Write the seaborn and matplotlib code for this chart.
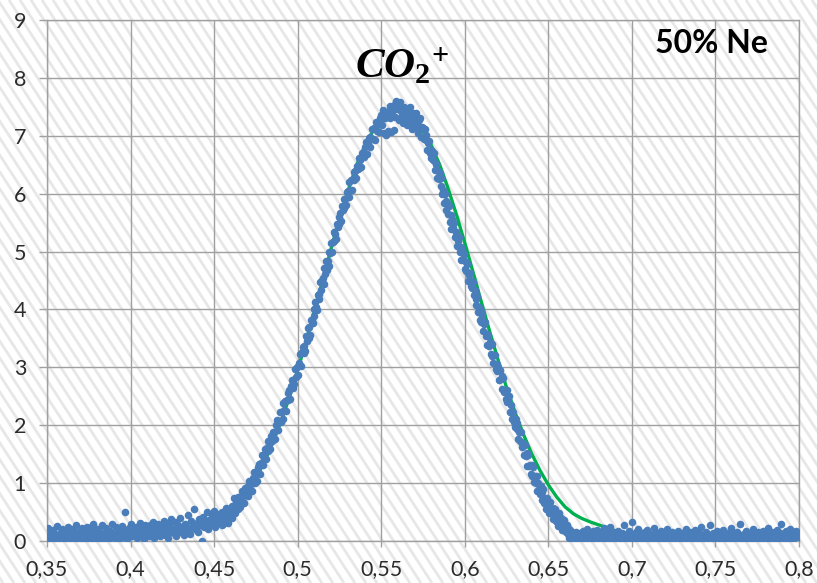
import numpy as np
import pandas as pd
import matplotlib
matplotlib.use("Agg")
import matplotlib.pyplot as plt
from matplotlib.ticker import FuncFormatter
import seaborn as sns

# ── data ──────────────────────────────────────────────────
# left baseline, 0.350 .. 0.4545
base_left = [
    0.08, 0.22, 0.03, 0.15, 0.01, 0.19, 0.11, 0.05, 0.26, 0.09,
    0.14, 0.02, 0.21, 0.07, 0.17, 0.00, 0.12, 0.24, 0.06, 0.16,
    0.04, 0.20, 0.10, 0.28, 0.03, 0.13, 0.18, 0.01, 0.23, 0.08,
    0.15, 0.05, 0.25, 0.11, 0.02, 0.19, 0.07, 0.29, 0.12, 0.04,
    0.21, 0.09, 0.16, 0.01, 0.27, 0.10, 0.06, 0.22, 0.14, 0.03,
    0.18, 0.08, 0.30, 0.12, 0.05, 0.24, 0.15, 0.02, 0.20, 0.10,
    0.26, 0.07, 0.50, 0.17, 0.04, 0.22, 0.13, 0.29, 0.09, 0.19,
    0.11, 0.25, 0.06, 0.18, 0.31, 0.10, 0.21, 0.03, 0.27, 0.14,
    0.20, 0.08, 0.28, 0.15, 0.33, 0.06, 0.22, 0.12, 0.30, 0.17,
    0.09, 0.26, 0.18, 0.35, 0.11, 0.23, 0.05, 0.29, 0.16, 0.38,
    0.21, 0.13, 0.32, 0.08, 0.27, 0.19, 0.40, 0.15, 0.25, 0.10,
    0.30, 0.18, 0.45, 0.22, 0.12, 0.35, 0.26, 0.55, 0.20, 0.31,
    0.16, 0.38, 0.27, 0.00, 0.42, 0.24, 0.33, 0.50, 0.21, 0.36,
    0.29, 0.44, 0.35, 0.52, 0.25, 0.40, 0.31, 0.47, 0.38, 0.28,
]
# rising edge, 0.455 .. 0.5595
rise = [
    0.50, 0.29, 0.47, 0.39, 0.57, 0.36, 0.47, 0.31, 0.55, 0.43,
    0.42, 0.61, 0.39, 0.58, 0.74, 0.49, 0.67, 0.60, 0.76, 0.56,
    0.76, 0.59, 0.75, 0.86, 0.68, 0.82, 0.65, 0.91, 0.80, 0.90,
    0.77, 0.95, 1.03, 0.88, 0.99, 0.86, 1.09, 1.00, 1.19, 1.01,
    1.16, 1.04, 1.28, 1.17, 1.33, 1.16, 1.34, 1.48, 1.32, 1.48,
    1.42, 1.59, 1.41, 1.61, 1.73, 1.56, 1.67, 1.59, 1.81, 1.73,
    1.89, 1.77, 1.89, 1.77, 2.00, 2.09, 1.91, 2.08, 2.05, 2.22,
    2.06, 2.23, 2.11, 2.39, 2.27, 2.42, 2.24, 2.44, 2.56, 2.44,
    2.61, 2.46, 2.67, 2.78, 2.65, 2.78, 2.71, 2.97, 2.84, 3.01,
    2.87, 3.08, 3.04, 3.23, 3.03, 3.26, 3.35, 3.24, 3.37, 3.29,
    3.54, 3.45, 3.68, 3.50, 3.69, 3.56, 3.82, 3.81, 3.77, 4.01,
    3.88, 4.13, 4.04, 3.99, 4.25, 4.26, 4.18, 4.48, 4.34, 4.51,
    4.55, 4.44, 4.71, 4.62, 4.84, 4.69, 4.84, 4.75, 4.99, 4.97,
    5.14, 4.99, 5.17, 5.33, 5.18, 5.30, 5.21, 5.47, 5.42, 5.60,
    5.47, 5.66, 5.52, 5.78, 5.71, 5.91, 5.76, 5.90, 5.81, 6.03,
    6.04, 5.94, 6.20, 6.06, 6.23, 6.06, 6.25, 6.37, 6.23, 6.39,
    6.27, 6.48, 6.42, 6.61, 6.44, 6.59, 6.46, 6.71, 6.66, 6.63,
    6.80, 6.69, 6.89, 6.69, 6.87, 6.96, 6.81, 6.98, 6.94, 7.11,
    6.95, 7.14, 6.93, 7.13, 7.24, 7.08, 7.22, 7.06, 7.21, 7.31,
    7.36, 7.18, 7.44, 7.05, 7.30, 7.40, 7.02, 7.35, 7.08, 7.42,
    7.30, 7.52, 7.06, 7.38, 7.45, 7.10, 7.55, 7.33, 7.60, 7.47,
]
# falling edge, 0.560 .. 0.6695
fall = [
    7.52, 7.28, 7.45, 7.58, 7.33, 7.40, 7.22, 7.49, 7.36, 7.30,
    7.44, 7.18, 7.38, 7.27, 7.50, 7.21, 7.35, 7.12, 7.40, 7.28,
    7.32, 7.15, 7.39, 7.20, 7.05, 7.28, 7.13, 7.30, 6.98, 7.16,
    7.13, 6.94, 7.12, 6.93, 7.01, 6.76, 6.88, 6.91, 6.71, 6.76,
    6.61, 6.73, 6.59, 6.70, 6.41, 6.52, 6.52, 6.27, 6.40, 6.25,
    6.35, 6.14, 6.27, 6.00, 6.06, 5.84, 5.99, 5.88, 5.71, 5.84,
    5.65, 5.78, 5.51, 5.63, 5.39, 5.57, 5.40, 5.50, 5.26, 5.34,
    5.33, 5.10, 5.19, 5.26, 5.00, 5.08, 4.86, 5.03, 4.87, 4.95,
    4.70, 4.82, 4.67, 4.79, 4.49, 4.60, 4.63, 4.41, 4.49, 4.37,
    4.47, 4.25, 4.33, 4.08, 4.18, 4.23, 3.96, 4.05, 3.81, 3.97,
    3.78, 3.90, 3.63, 3.74, 3.79, 3.54, 3.57, 3.39, 3.54, 3.37,
    3.44, 3.23, 3.40, 3.19, 3.07, 3.21, 3.22, 2.97, 3.06, 2.93,
    3.00, 2.78, 2.96, 2.80, 2.85, 2.62, 2.82, 2.57, 2.60, 2.46,
    2.61, 2.40, 2.45, 2.50, 2.22, 2.35, 2.10, 2.21, 2.23, 2.06,
    1.97, 2.11, 1.93, 2.04, 1.77, 1.89, 1.73, 1.88, 1.62, 1.69,
    1.69, 1.49, 1.66, 1.46, 1.52, 1.30, 1.48, 1.29, 1.32, 1.16,
    1.31, 1.12, 1.28, 1.02, 1.12, 1.00, 1.13, 0.86, 1.01, 0.89,
    0.82, 0.95, 0.71, 0.85, 0.89, 0.66, 0.74, 0.55, 0.74, 0.59,
    0.68, 0.48, 0.68, 0.49, 0.54, 0.38, 0.57, 0.43, 0.55, 0.34,
    0.33, 0.48, 0.26, 0.49, 0.31, 0.39, 0.19, 0.34, 0.19, 0.37,
    0.30, 0.16, 0.27, 0.12, 0.22, 0.05, 0.19, 0.10, 0.15, 0.03,
    0.12, 0.02, 0.09, 0.16, 0.04, 0.11, 0.00, 0.08, 0.14, 0.05,
]
# right baseline, 0.670 .. 0.800
base_right = [
    0.06, 0.18, 0.02, 0.11, 0.21, 0.04, 0.14, 0.00, 0.09, 0.17,
    0.03, 0.12, 0.19, 0.07, 0.01, 0.15, 0.05, 0.22, 0.10, 0.02,
    0.13, 0.06, 0.24, 0.08, 0.16, 0.01, 0.11, 0.04, 0.18, 0.07,
    0.00, 0.14, 0.09, 0.28, 0.05, 0.12, 0.03, 0.17, 0.08, 0.32,
    0.11, 0.02, 0.15, 0.06, 0.20, 0.01, 0.10, 0.13, 0.04, 0.16,
    0.07, 0.19, 0.03, 0.12, 0.00, 0.09, 0.22, 0.05, 0.14, 0.02,
    0.10, 0.04, 0.17, 0.08, 0.13, 0.01, 0.20, 0.06, 0.11, 0.03,
    0.15, 0.07, 0.00, 0.12, 0.05, 0.18, 0.09, 0.02, 0.14, 0.06,
    0.11, 0.21, 0.03, 0.08, 0.16, 0.01, 0.12, 0.05, 0.19, 0.07,
    0.02, 0.13, 0.09, 0.24, 0.04, 0.10, 0.00, 0.15, 0.06, 0.11,
    0.28, 0.05, 0.14, 0.08, 0.01, 0.17, 0.10, 0.03, 0.12, 0.06,
    0.19, 0.04, 0.09, 0.14, 0.00, 0.11, 0.23, 0.07, 0.02, 0.13,
    0.08, 0.16, 0.05, 0.30, 0.10, 0.03, 0.12, 0.06, 0.18, 0.01,
    0.09, 0.14, 0.04, 0.20, 0.07, 0.11, 0.02, 0.15, 0.08, 0.12,
    0.05, 0.17, 0.10, 0.01, 0.13, 0.22, 0.06, 0.09, 0.16, 0.03,
    0.11, 0.07, 0.19, 0.04, 0.14, 0.29, 0.08, 0.12, 0.02, 0.17,
    0.10, 0.06, 0.21, 0.13, 0.04, 0.16, 0.09, 0.18, 0.11, 0.07,
]

# fitted curve (green)
fit_x = [0.35, 0.36, 0.37, 0.38, 0.39, 0.40, 0.41, 0.42, 0.43,
         0.435, 0.44, 0.445, 0.45, 0.455, 0.46, 0.465, 0.47, 0.475, 0.48,
         0.485, 0.49, 0.495, 0.50, 0.505, 0.51, 0.515, 0.52, 0.525, 0.53,
         0.535, 0.54, 0.545, 0.55, 0.555, 0.56, 0.565, 0.57, 0.575, 0.58,
         0.585, 0.59, 0.595, 0.60, 0.605, 0.61, 0.615, 0.62, 0.625, 0.63,
         0.635, 0.64, 0.645, 0.65, 0.655, 0.66, 0.665, 0.67, 0.675, 0.68,
         0.685, 0.69, 0.70, 0.71, 0.72, 0.74, 0.76, 0.78, 0.80]
fit_y = [0.03, 0.04, 0.05, 0.06, 0.07, 0.08, 0.10, 0.12, 0.16,
         0.19, 0.23, 0.28, 0.33, 0.40, 0.50, 0.65, 0.84, 1.08, 1.36,
         1.69, 2.06, 2.48, 2.95, 3.45, 3.98, 4.51, 5.05, 5.57, 6.04,
         6.47, 6.82, 7.08, 7.24, 7.30, 7.30, 7.30, 7.24, 7.08, 6.83,
         6.50, 6.09, 5.64, 5.15, 4.64, 4.12, 3.61, 3.12, 2.65, 2.23,
         1.85, 1.51, 1.22, 0.97, 0.76, 0.59, 0.47, 0.39, 0.33, 0.28,
         0.23, 0.18, 0.12, 0.08, 0.06, 0.04, 0.035, 0.03, 0.03]

x_ticks = [0.35, 0.40, 0.45, 0.50, 0.55, 0.60, 0.65, 0.70, 0.75, 0.80]
y_ticks = [0, 1, 2, 3, 4, 5, 6, 7, 8, 9]

# ── assemble points on the measurement grid ───────────────
segments = [(base_left, 0.350, 0.4545), (rise, 0.455, 0.5595),
            (fall, 0.560, 0.6695), (base_right, 0.670, 0.800)]
xs, ys = [], []
for vals, x0, x1 in segments:
    xs.extend(np.linspace(x0, x1, len(vals)))
    ys.extend(vals)
pts = pd.DataFrame({"x": xs, "y": ys})
fit = pd.DataFrame({"x": fit_x, "y": fit_y})

# ── style ─────────────────────────────────────────────────
sns.set_theme(style="white")
plt.rcParams["font.family"] = ["Lato", "DejaVu Sans"]
plt.rcParams["mathtext.fontset"] = "custom"
plt.rcParams["mathtext.it"] = "Liberation Serif:bold:italic"
plt.rcParams["mathtext.rm"] = "Liberation Serif:bold"
plt.rcParams["mathtext.bf"] = "Liberation Serif:bold"

W, H = 817, 583
fig = plt.figure(figsize=(W / 100, H / 100), dpi=100)
fig.patch.set_facecolor("white")

# diagonal hatched background over the whole chart
bg = fig.add_axes([0, 0, 1, 1], zorder=0)
bg.set_xlim(0, W)
bg.set_ylim(H, 0)
bg.axis("off")
for x0 in np.arange(-420, W + 10, 11):
    bg.plot([x0, x0 + 0.65 * H], [0, H], color="#e7e7e7", lw=2.0,
            solid_capstyle="butt")

ax = fig.add_axes([47 / W, 42 / H, 752 / W, 521 / H], zorder=1)
ax.set_facecolor("none")

grid_c = "#a0a0a0"
sns.lineplot(data=fit, x="x", y="y", color="#00B050", lw=2.4,
             estimator=None, sort=False, ax=ax, zorder=2)
sns.scatterplot(data=pts, x="x", y="y", color="#4A7EBB", s=30,
                linewidth=0, ax=ax, zorder=3)

ax.set_xlim(0.35, 0.80)
ax.set_ylim(0, 9)
ax.set_xticks(x_ticks)
ax.set_yticks(y_ticks)
ax.xaxis.set_major_formatter(FuncFormatter(lambda v, p: f"{v:g}".replace(".", ",")))
ax.set_xlabel("")
ax.set_ylabel("")
ax.set_axisbelow(True)
ax.grid(True, color=grid_c, lw=1.0)
for sp in ax.spines.values():
    sp.set_visible(True)
    sp.set_color(grid_c)
    sp.set_linewidth(1.0)
ax.tick_params(axis="y", length=6, width=1.0, color=grid_c, pad=9,
               labelsize=15.5, labelcolor="#2b2b2b", left=True)
ax.tick_params(axis="x", length=4, width=1.0, color=grid_c, pad=9,
               labelsize=15.5, labelcolor="#2b2b2b", bottom=True)

ax.text(0.7476, 8.60, "50% Ne", fontsize=23, fontweight="bold",
        color="black", ha="center", va="center")
ax.text(0.5626, 8.0, r"$CO_{\mathrm{2}}{}^{+}$", fontsize=31,
        color="black", ha="center", va="baseline")

fig.savefig("out.png", dpi=100)
